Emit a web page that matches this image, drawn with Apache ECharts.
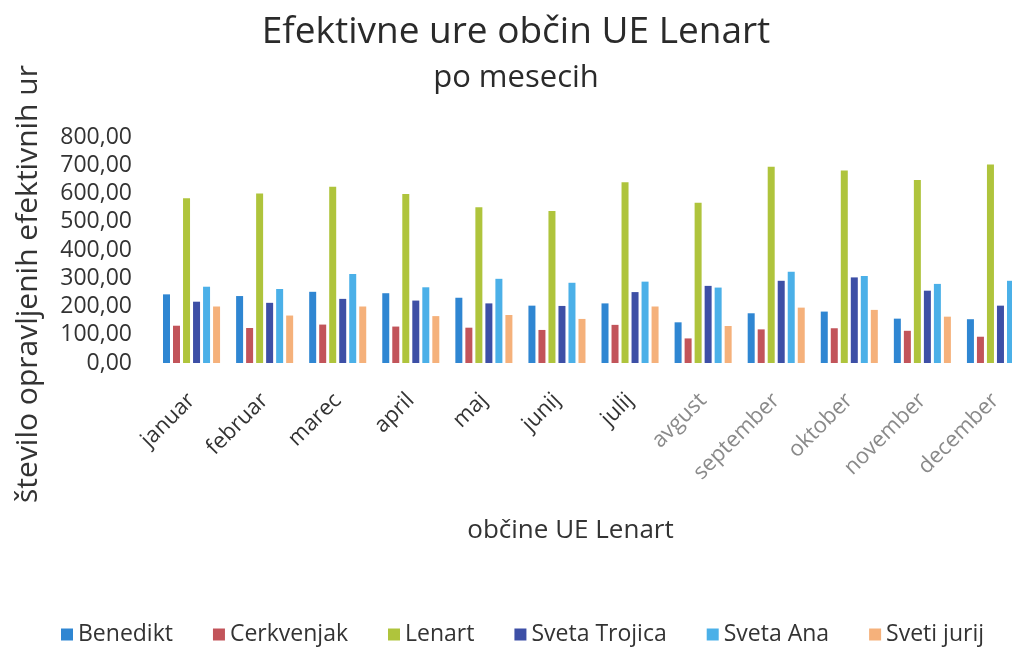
<!DOCTYPE html>
<html>
<head>
<meta charset="utf-8">
<script src="https://cdn.jsdelivr.net/npm/echarts@6/dist/echarts.min.js"></script>
<style>
  html, body { margin: 0; padding: 0; background: #fff; overflow: hidden; }
  /* a bit wider than the window: the original picture is cropped on the right */
  #chart { width: 1032px; height: 651px; }
</style>
</head>
<body>
<div id="chart"></div>
<script>
// meseci
const months = ['januar', 'februar', 'marec', 'april', 'maj', 'junij', 'julij',
  'avgust', 'september', 'oktober', 'november', 'december']

// efektivne ure po občinah (odčitano s slike)
const benedikt     = [243, 237, 252, 247, 231, 203, 211, 144, 176, 182, 157, 155]
const cerkvenjak   = [132, 124, 136, 129, 125, 117, 135, 87, 119, 123, 114, 93]
const lenart       = [583, 600, 624, 598, 551, 538, 640, 567, 695, 681, 648, 703]
const svetaTrojica = [217, 213, 227, 221, 211, 202, 251, 273, 291, 303, 256, 203]
const svetaAna     = [270, 262, 315, 268, 298, 284, 288, 267, 323, 308, 280, 291]
const svetiJurij   = [200, 168, 200, 166, 170, 156, 200, 131, 196, 188, 164, 180]

const font = 'Open Sans'
const chart = echarts.init(document.getElementById('chart'))

function bar(name, data, color) {
  return {
    name: name,
    type: 'bar',
    data: data,
    barWidth: 7,
    barGap: '43%',
    itemStyle: { color: color }
  }
}

let option = {
  backgroundColor: '#fff',
  textStyle: { fontFamily: font },
  title: {
    text: 'Efektivne ure občin UE Lenart',
    subtext: 'po mesecih',
    left: 'center',
    top: 9,
    itemGap: 12,
    textStyle: { fontFamily: font, fontSize: 37, fontWeight: 'normal', color: '#2a2a2a' },
    subtextStyle: { fontFamily: font, fontSize: 31, color: '#2a2a2a' }
  },
  legend: {
    bottom: 0,
    left: 56,
    itemWidth: 12,
    itemHeight: 12,
    itemGap: 40,
    icon: 'rect',
    textStyle: { fontFamily: font, fontSize: 23, color: '#333' }
  },
  grid: { left: 155, right: 0, top: 137, bottom: 288, containLabel: false },
  xAxis: {
    type: 'category',
    data: months.map((m, i) => i < 7 ? m : { value: m, textStyle: { color: '#8a8a8a' } }),
    name: 'občine UE Lenart',
    nameLocation: 'middle',
    nameGap: 155,
    nameTextStyle: { fontFamily: font, fontSize: 26, color: '#333', padding: [0, 46, 0, 0] },
    axisLine: { show: false },
    axisTick: { show: false },
    axisLabel: { rotate: 45, fontSize: 22, color: '#333', margin: 34, interval: 0 }
  },
  yAxis: {
    type: 'value',
    min: 0,
    max: 800,
    interval: 100,
    name: 'število opravljenih efektivnih ur',
    nameLocation: 'middle',
    nameGap: 112,
    nameTextStyle: { fontFamily: font, fontSize: 30, color: '#333', padding: [0, 68, 0, 0] },
    splitLine: { show: false },
    axisLine: { show: false },
    axisTick: { show: false },
    axisLabel: {
      fontSize: 23,
      color: '#333',
      margin: 23,
      formatter: v => v.toFixed(2).replace('.', ',')
    }
  },
  series: [
    bar('Benedikt', benedikt, '#2f86d2'),
    bar('Cerkvenjak', cerkvenjak, '#c2545a'),
    bar('Lenart', lenart, '#afc43c'),
    bar('Sveta Trojica', svetaTrojica, '#3d4fa6'),
    bar('Sveta Ana', svetaAna, '#4bb0e8'),
    bar('Sveti jurij', svetiJurij, '#f5b17b')
  ]
}
chart.setOption(option)
</script>
</body>
</html>
